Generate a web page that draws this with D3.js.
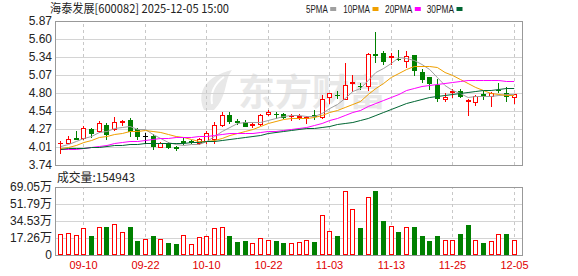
<!DOCTYPE html>
<html><head><meta charset="utf-8">
<script src="https://cdn.jsdelivr.net/npm/d3@7"></script>
<style>
html,body{margin:0;padding:0;background:#fff;}
svg{display:block;}
</style></head><body>
<svg id="c" width="578" height="276"></svg>
<script>
// ---------- data ----------
const dates = ["09-05","09-08","09-09","09-10","09-11","09-12","09-15","09-16","09-17","09-18","09-19","09-22","09-23","09-24","09-25","09-26","09-29","09-30","10-09","10-10","10-13","10-14","10-15","10-16","10-17","10-20","10-21","10-22","10-23","10-24","10-27","10-28","10-29","10-30","10-31","11-03","11-04","11-05","11-06","11-07","11-10","11-11","11-12","11-13","11-14","11-17","11-18","11-19","11-20","11-21","11-24","11-25","11-26","11-27","11-28","12-01","12-02","12-03","12-04","12-05"];
const openP = [4.06,4.07,4.14,4.14,4.27,4.24,4.33,4.27,4.37,4.41,4.27,4.17,4.17,4.01,4.07,4.00,4.095,4.095,4.07,4.095,4.12,4.33,4.48,4.385,4.37,4.335,4.34,4.49,4.50,4.49,4.46,4.45,4.44,4.475,4.455,4.75,4.78,4.72,4.95,4.915,4.91,5.375,5.40,5.335,5.315,5.28,5.36,5.12,5.04,4.93,4.71,4.82,4.835,4.685,4.67,4.79,4.76,4.855,4.81,4.74];
const highP = [4.09,4.17,4.25,4.31,4.28,4.39,4.36,4.45,4.41,4.43,4.28,4.21,4.20,4.08,4.08,4.02,4.14,4.11,4.14,4.24,4.37,4.52,4.52,4.42,4.40,4.37,4.49,4.555,4.53,4.51,4.50,4.50,4.465,4.55,4.775,4.81,4.835,5.25,5.07,4.95,5.39,5.70,5.42,5.40,5.44,5.42,5.37,5.16,5.04,5.01,4.80,4.86,4.86,4.71,4.77,4.835,4.825,4.96,4.90,4.79];
const lowP = [3.92,4.06,4.12,4.13,4.15,4.23,4.13,4.26,4.33,4.17,4.13,4.07,3.97,4.00,3.99,3.96,4.05,4.06,4.05,4.07,4.06,4.32,4.36,4.34,4.31,4.30,4.33,4.48,4.44,4.43,4.41,4.42,4.36,4.42,4.44,4.65,4.73,4.71,4.83,4.87,4.85,5.27,5.24,5.23,5.29,5.19,5.07,4.97,4.87,4.68,4.68,4.74,4.74,4.48,4.63,4.72,4.62,4.815,4.68,4.65];
const closeP = [4.07,4.13,4.13,4.28,4.21,4.36,4.20,4.38,4.39,4.24,4.17,4.17,4.02,4.07,4.00,3.99,4.085,4.085,4.12,4.22,4.33,4.48,4.39,4.375,4.32,4.345,4.475,4.53,4.49,4.455,4.47,4.46,4.45,4.465,4.71,4.80,4.77,4.93,4.97,4.905,5.38,5.365,5.28,5.345,5.305,5.35,5.15,5.01,4.95,4.73,4.74,4.83,4.765,4.695,4.765,4.78,4.80,4.845,4.765,4.785];
// volume in 万 (10k shares)
const volume = [21.3,22.3,20.3,27.4,19.6,28.4,28.7,31.5,23.4,28.7,14.2,16.2,19.6,16.2,12.5,11.2,20.3,11.0,18.4,19.3,27.1,28.4,19.3,13.2,14.2,11.8,16.9,14.9,14.2,12.2,12.2,12.9,14.9,13.2,40.3,24.1,19.3,64.7,46.7,27.4,58.6,65.0,34.5,29.1,23.4,28.1,28.4,19.3,14.2,19.3,14.9,14.9,21.3,30.5,14.9,12.2,13.9,21.0,21.3,15.4943];
// volume bar direction (1 = up / red, 0 = down / green)
const volUp = [1,1,1,1,0,1,0,1,1,0,0,1,0,1,0,0,1,1,1,1,1,1,0,0,0,1,1,1,0,0,1,1,1,0,1,1,0,1,1,0,1,0,0,1,0,1,0,0,0,0,1,1,0,0,1,0,1,1,0,1];
const ma5 = [4.02,4.05,4.09,4.14,4.164,4.222,4.236,4.286,4.308,4.314,4.276,4.27,4.198,4.134,4.086,4.05,4.033,4.046,4.056,4.10,4.168,4.247,4.308,4.359,4.379,4.382,4.381,4.409,4.432,4.459,4.484,4.481,4.465,4.46,4.511,4.577,4.639,4.735,4.836,4.875,4.991,5.11,5.18,5.255,5.335,5.329,5.286,5.232,5.153,5.038,4.916,4.852,4.803,4.752,4.759,4.767,4.761,4.777,4.791,4.795];
const ma10 = [3.99,4.01,4.04,4.08,4.11,4.15,4.17,4.20,4.22,4.239,4.249,4.253,4.242,4.221,4.200,4.163,4.152,4.122,4.095,4.093,4.109,4.140,4.177,4.208,4.240,4.275,4.314,4.359,4.396,4.419,4.433,4.431,4.437,4.446,4.485,4.531,4.56,4.60,4.648,4.693,4.784,4.875,4.958,5.046,5.105,5.16,5.198,5.206,5.204,5.187,5.123,5.069,5.018,4.953,4.899,4.842,4.807,4.79,4.772,4.777];
const ma20 = [3.97,3.97,3.975,3.99,4.01,4.025,4.04,4.06,4.075,4.09,4.10,4.115,4.125,4.135,4.14,4.15,4.155,4.16,4.163,4.166,4.179,4.197,4.210,4.214,4.220,4.219,4.233,4.240,4.245,4.256,4.271,4.286,4.307,4.327,4.362,4.403,4.437,4.479,4.522,4.556,4.609,4.653,4.697,4.746,4.795,4.845,4.879,4.903,4.926,4.940,4.953,4.972,4.988,4.999,5.002,5.001,5.002,4.998,4.988,4.982];
const ma30 = [3.98,3.985,3.99,3.995,4.00,4.01,4.02,4.03,4.04,4.045,4.05,4.06,4.06,4.065,4.065,4.07,4.07,4.075,4.08,4.09,4.10,4.115,4.13,4.145,4.16,4.175,4.19,4.21,4.23,4.250,4.264,4.275,4.285,4.292,4.308,4.323,4.342,4.360,4.380,4.402,4.442,4.482,4.524,4.566,4.610,4.655,4.691,4.722,4.749,4.766,4.780,4.792,4.804,4.815,4.830,4.844,4.855,4.865,4.875,4.886];
const priceTicks = [3.74,4.01,4.27,4.54,4.80,5.07,5.34,5.60,5.87];
const volTicks = [0,17.26,34.53,51.79,69.05];
const dateTicks = ["09-10","09-22","10-10","10-22","11-03","11-13","11-25","12-05"];
const titleText = "海泰发展[600082] 2025-12-05 15:00";
const maNames = ["5PMA","10PMA","20PMA","30PMA"];
const volLabel = "成交量:154943";
const watermark = "东方财富";

// ---------- layout ----------
const L = 55, R = 522, T = 21, B = 165, VT = 187, VB = 255;
const RED = "#ff0000", GREEN = "#008000", GRID = "#d4d4d4", FRAME = "#999";
const maColors = ["#a0a0a0", "#f0a000", "#ff00ff", "#006633"];
const maData = [ma5, ma10, ma20, ma30];

const svg = d3.select("#c");
const x = d3.scalePoint().domain(dates).range([60.4, 513.7]);
const y = d3.scaleLinear().domain([3.74, 5.87]).rangeRound([B, T]);
const yv = d3.scaleLinear().domain([0, 69.05]).rangeRound([VB, VT]);
const cx = d => Math.round(x(d));

// title
svg.append("text").attr("x", 50).attr("y", 13)
  .attr("font-family", "'Noto Sans CJK SC','Noto Sans',sans-serif").attr("font-size", 12)
  .attr("fill", "#222").attr("textLength", 179).attr("lengthAdjust", "spacingAndGlyphs")
  .text(titleText);

// legend
const legX = [306, 343.3, 385, 426.7], legW = [21.7, 26.7, 27.3, 27.3];
maNames.forEach((n, i) => {
  svg.append("text").attr("x", legX[i]).attr("y", 12.5)
    .attr("font-family", "'Liberation Sans',Arial,sans-serif").attr("font-size", 11)
    .attr("fill", "#222").attr("textLength", legW[i]).attr("lengthAdjust", "spacingAndGlyphs").text(n);
  svg.append("rect").attr("x", legX[i] + legW[i] + 2.5).attr("y", 7).attr("width", 6).attr("height", 4)
    .attr("fill", maColors[i]);
});

// watermark
const wm = svg.append("g").attr("fill", "#e8e8e8");
wm.append("path").attr("d", "M204,110 C196,92 206,76 232,70 C224,80 228,96 214,110 Z");
wm.append("path").attr("d", "M212,104 C210,92 214,84 224,77").attr("stroke", "#fff").attr("stroke-width", 2).attr("fill", "none");
wm.append("text").attr("x", 238).attr("y", 106)
  .attr("font-family", "'Noto Sans CJK SC',sans-serif").attr("font-weight", 700).attr("font-size", 37)
  .text(watermark);

// price axis + grid
const gy = svg.append("g").attr("transform", `translate(${L},0)`)
  .call(d3.axisLeft(y).tickValues(priceTicks).tickSize(-(R - L)).tickPadding(3).tickFormat(d3.format(".2f")));
gy.select(".domain").remove();
gy.selectAll(".tick line").attr("stroke", GRID);
gy.selectAll(".tick text").attr("font-family", "'Liberation Sans',Arial,sans-serif").attr("font-size", 12).attr("fill", "#222");

// volume axis + grid
const gv = svg.append("g").attr("transform", `translate(${L},0)`)
  .call(d3.axisLeft(yv).tickValues(volTicks).tickSize(-(R - L)).tickPadding(3)
    .tickFormat(v => v === 0 ? "0" : d3.format(".2f")(v) + "万"));
gv.select(".domain").remove();
gv.selectAll(".tick line").attr("stroke", GRID);
gv.selectAll(".tick text").attr("font-family", "'Liberation Sans','Noto Sans CJK SC',Arial,sans-serif").attr("font-size", 12).attr("fill", "#222");

// vertical dashed date grid (main pane)
const gxm = svg.append("g").attr("transform", `translate(0,${B})`)
  .call(d3.axisBottom(x).tickValues(dateTicks).tickSize(-(B - T)).tickFormat(""));
gxm.select(".domain").remove();
gxm.selectAll(".tick").attr("transform", d => `translate(${cx(d) + 0.5},0)`);
gxm.selectAll(".tick line").attr("stroke", "#c8c8c8").attr("stroke-dasharray", "3,3");

// vertical dashed grid + date labels (volume pane)
const gxv = svg.append("g").attr("transform", `translate(0,${VB})`)
  .call(d3.axisBottom(x).tickValues(dateTicks).tickSize(-(VB - VT)).tickPadding(6));
gxv.select(".domain").remove();
gxv.selectAll(".tick").attr("transform", d => `translate(${cx(d) + 0.5},0)`);
gxv.selectAll(".tick line").attr("stroke", "#c8c8c8").attr("stroke-dasharray", "3,3");
gxv.selectAll(".tick text").attr("font-family", "'Liberation Sans',Arial,sans-serif").attr("font-size", 11).attr("fill", "#e00000");

// frames
svg.append("rect").attr("x", L + 0.5).attr("y", T + 0.5).attr("width", R - L).attr("height", B - T)
  .attr("fill", "none").attr("stroke", FRAME);
svg.append("rect").attr("x", L + 0.5).attr("y", VT + 0.5).attr("width", R - L).attr("height", VB - VT)
  .attr("fill", "none").attr("stroke", FRAME);

// volume label
svg.append("text").attr("x", 57).attr("y", 182)
  .attr("font-family", "'Noto Sans CJK SC','Liberation Sans',sans-serif").attr("font-size", 12)
  .attr("fill", "#222").attr("textLength", 78).attr("lengthAdjust", "spacingAndGlyphs").text(volLabel);

// candles
const gc = svg.append("g");
dates.forEach((d, i) => {
  const o = openP[i], c = closeP[i], h = highP[i], l = lowP[i];
  const xc = cx(d);
  const col = c > o ? RED : (c < o ? GREEN : "#000");
  const top = y(Math.max(o, c)), bot = y(Math.min(o, c));
  const yh = y(h), yl = y(l);
  if (bot - top < 1) {
    gc.append("line").attr("x1", xc + 0.5).attr("x2", xc + 0.5).attr("y1", yh).attr("y2", yl + 1).attr("stroke", col);
    gc.append("line").attr("x1", xc - 2).attr("x2", xc + 3).attr("y1", top + 0.5).attr("y2", top + 0.5).attr("stroke", col);
  } else if (c > o) {
    if (yh < top) gc.append("line").attr("x1", xc + 0.5).attr("x2", xc + 0.5).attr("y1", yh).attr("y2", top).attr("stroke", col);
    if (yl > bot) gc.append("line").attr("x1", xc + 0.5).attr("x2", xc + 0.5).attr("y1", bot + 1).attr("y2", yl + 1).attr("stroke", col);
    gc.append("rect").attr("x", xc - 1.5).attr("y", top + 0.5).attr("width", 4).attr("height", bot - top)
      .attr("fill", "#fff").attr("stroke", col);
  } else {
    gc.append("line").attr("x1", xc + 0.5).attr("x2", xc + 0.5).attr("y1", yh).attr("y2", yl + 1).attr("stroke", col);
    gc.append("rect").attr("x", xc - 2).attr("y", top).attr("width", 5).attr("height", Math.max(1, bot - top + 1))
      .attr("fill", col);
  }
});

// MA lines
maData.forEach((arr, k) => {
  svg.append("path")
    .attr("d", d3.line().x((v, i) => x(dates[i]) + 0.5).y(v => y(v) + 0.5)(arr))
    .attr("fill", "none").attr("stroke", maColors[k]).attr("stroke-width", 1);
});

// volume bars
const gvb = svg.append("g");
dates.forEach((d, i) => {
  const xc = cx(d);
  const top = yv(volume[i]);
  if (volUp[i]) {
    gvb.append("rect").attr("x", xc - 1.5).attr("y", top + 0.5).attr("width", 4).attr("height", VB - top - 1)
      .attr("fill", "#fff").attr("stroke", RED);
  } else {
    gvb.append("rect").attr("x", xc - 2).attr("y", top).attr("width", 5).attr("height", VB - top)
      .attr("fill", GREEN);
  }
});
</script>
</body></html>
